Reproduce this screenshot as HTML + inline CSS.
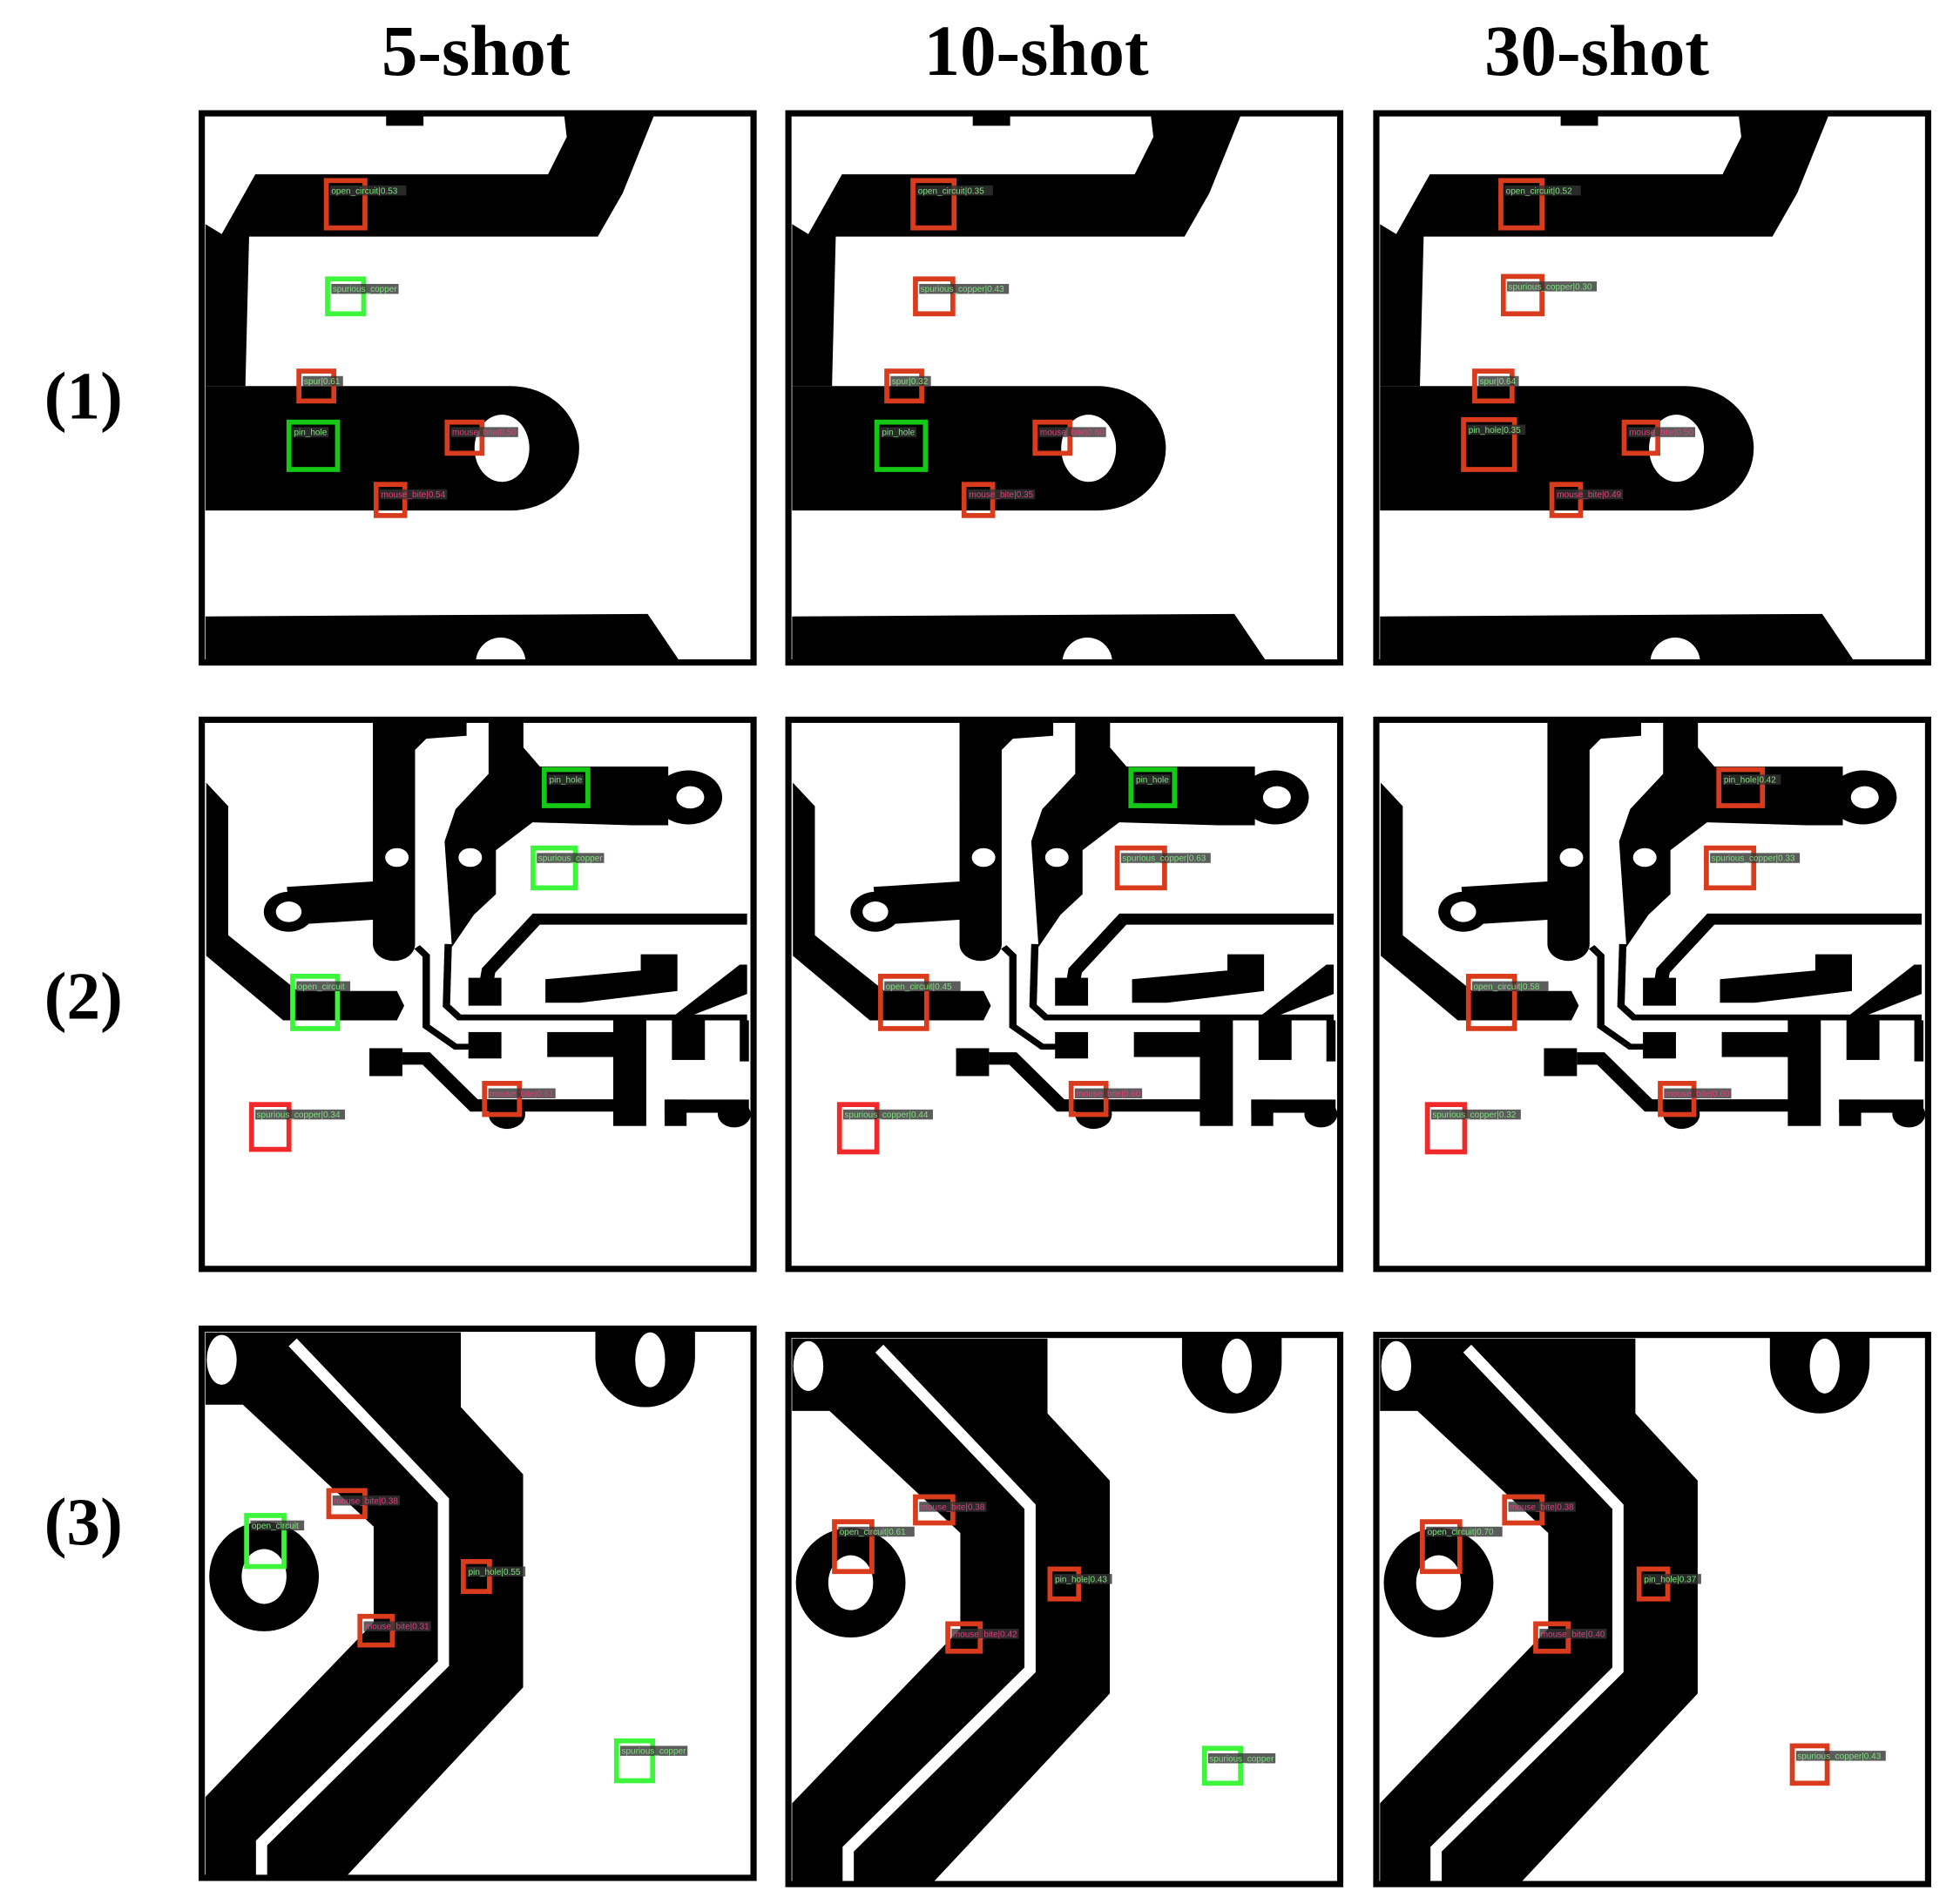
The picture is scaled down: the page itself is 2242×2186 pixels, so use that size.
<!DOCTYPE html>
<html><head><meta charset="utf-8"><style>
html,body{margin:0;padding:0;background:#fff;}
svg{display:block;}
</style></head><body>
<svg id="fig" width="2242" height="2186" viewBox="0 0 1568 1529" preserveAspectRatio="none" xmlns="http://www.w3.org/2000/svg">
<defs>
 <g id="pcb1">
  <polygon points="453,93 525,93 500,155 480,190 200,190 197,310 165,310 165,180 178,188 205,140 440,140 455,110" fill="#000"/>
  <rect x="310" y="93" width="30" height="8" fill="#000"/>
  <path d="M165,310 L410,310 A55,50 0 0 1 410,410 L165,410 Z" fill="#000"/>
  <ellipse cx="403" cy="360" rx="22" ry="27" fill="#fff"/>
  <polygon points="165,495 520,493 545,530 165,530" fill="#000"/>
  <circle cx="402" cy="532" r="20" fill="#fff"/>
 </g>
 <g id="pcb2">
  <g transform="matrix(0.2944,0,0,0.2356,153.8,572)">
   <polygon points="40,240 100,320 100,760 290,950 560,950 580,1000 560,1050 250,1050 40,830" fill="#000"/>
   <path d="M552,40 L552,790" stroke="#000" stroke-width="115" stroke-linecap="round"/>
   <path d="M265,660 L520,640" stroke="#000" stroke-width="130"/>
   <circle cx="265" cy="680" r="68" fill="#000"/>
   <polygon points="495,30 750,30 750,80 640,90 600,140 600,300 495,300" fill="#000"/>
   <circle cx="560" cy="495" r="32" fill="#fff"/>
   <circle cx="265" cy="680" r="35" fill="#fff"/>
   <polygon points="810,30 905,30 905,120 950,185 1300,185 1300,385 1200,385 930,375 830,470 830,620 770,690 710,800 690,440 720,330 810,210" fill="#000"/>
   <circle cx="1355" cy="290" r="92" fill="#000"/>
   <circle cx="1360" cy="290" r="38" fill="#fff"/>
   <circle cx="760" cy="495" r="32" fill="#fff"/>
   <path d="M700,790 L695,1000 L730,1040 L1515,1040" stroke="#000" stroke-width="20" fill="none"/>
   <path d="M615,800 L640,830 L640,1070 L720,1140 L770,1140" stroke="#000" stroke-width="20" fill="none"/>
   <path d="M800,950 L810,880 L940,705 L1515,705" stroke="#000" stroke-width="38" fill="none"/>
   <rect x="755" y="905" width="90" height="95" fill="#000"/>
   <polygon points="965,910 1225,880 1225,825 1325,825 1325,950 1060,990 965,990" fill="#000"/>
   <polygon points="1495,860 1515,860 1515,960 1330,1050 1310,1040" fill="#000"/>
   <rect x="755" y="1090" width="90" height="90" fill="#000"/>
   <rect x="970" y="1090" width="190" height="85" fill="#000"/>
   <rect x="1150" y="1050" width="90" height="360" fill="#000"/>
   <rect x="1310" y="1050" width="90" height="135" fill="#000"/>
   <rect x="1495" y="1050" width="25" height="140" fill="#000"/>
   <rect x="485" y="1145" width="90" height="95" fill="#000"/>
   <path d="M575,1180 L640,1180 L770,1340 L1160,1340" stroke="#000" stroke-width="42" fill="none"/>
   <circle cx="860" cy="1370" r="50" fill="#000"/>
   <rect x="1290" y="1320" width="60" height="90" fill="#000"/>
   <rect x="1290" y="1320" width="230" height="45" fill="#000"/>
   <circle cx="1480" cy="1370" r="45" fill="#000"/>
  </g>
 </g>
 <g id="pcb3">
  <polygon points="165,1070 370,1070 370,1130 420,1184 420,1355 275,1510 165,1510 165,1443 300,1303 300,1226 195,1128 165,1128" fill="#000"/>
  <circle cx="212" cy="1266" r="44" fill="#000"/>
  <ellipse cx="212" cy="1266" rx="18" ry="22" fill="#fff"/>
  <ellipse cx="178" cy="1092" rx="12" ry="20" fill="#fff"/>
  <path d="M235,1078 L356,1205 L356,1336 L210,1480 L210,1510" stroke="#fff" stroke-width="9" fill="none"/>
  <path d="M478,1065 L478,1090 A40,40 0 0 0 558,1090 L558,1065 Z" fill="#000"/>
  <ellipse cx="522" cy="1092" rx="12" ry="22" fill="#fff"/>
 </g>
</defs>
<g id="titles" font-family="'Liberation Serif', serif" font-weight="bold" font-size="58" text-anchor="middle" fill="#000">
 <text x="382" y="60">5-shot</text>
 <text x="832" y="60">10-shot</text>
 <text x="1282" y="60">30-shot</text>
</g>
<g id="rowlabels" font-family="'Liberation Serif', serif" font-weight="bold" font-size="54" text-anchor="middle" fill="#000">
 <text x="67" y="336">(1)</text>
 <text x="67" y="818">(2)</text>
 <text x="67" y="1240">(3)</text>
</g>
<g id="panels"></g>
</svg>
<script>
const NS = "http://www.w3.org/2000/svg";
// panel geometry in display units
const colOffsets = [0, 471, 943];
const rowTops = [91, 578, 1067];
const rowDy = [[0,0,0],[0,0,0],[0,5,5]];
// boxes: [row, col, x1, y1, x2, y2, color, label]
const boxes = [
 [0,0,262,145,293,183,'r','open_circuit|0.53'],[0,0,263,224,292,252,'g','spurious_copper'],[0,0,240,298,268,322,'r','spur|0.61'],[0,0,232,339,271,377,'G','pin_hole'],[0,0,359,339,387,364,'r','mouse_bite|0.50'],[0,0,302,389,325,414,'r','mouse_bite|0.54'],
 [0,1,733,145,766,183,'r','open_circuit|0.35'],[0,1,735,224,765,252,'r','spurious_copper|0.43'],[0,1,712,298,740,322,'r','spur|0.32'],[0,1,704,339,743,377,'G','pin_hole'],[0,1,831,339,859,364,'r','mouse_bite|0.60'],[0,1,774,389,797,414,'r','mouse_bite|0.35'],
 [0,2,1205,145,1238,183,'r','open_circuit|0.52'],[0,2,1207,222,1238,252,'r','spurious_copper|0.30'],[0,2,1184,298,1214,322,'r','spur|0.64'],[0,2,1175,337,1216,377,'r','pin_hole|0.35'],[0,2,1304,339,1331,364,'r','mouse_bite|0.50'],[0,2,1246,389,1269,414,'r','mouse_bite|0.49'],
 [1,0,437,618,472,647,'G','pin_hole'],[1,0,428,681,462,713,'g','spurious_copper'],[1,0,235,784,271,826,'g','open_circuit'],[1,0,389,870,417,895,'r','mouse_bite|0.61'],[1,0,202,887,232,923,'R','spurious_copper|0.34'],
 [1,1,908,618,943,647,'G','pin_hole'],[1,1,897,681,935,713,'r','spurious_copper|0.63'],[1,1,707,784,744,826,'r','open_circuit|0.45'],[1,1,860,870,888,895,'r','mouse_bite|0.60'],[1,1,674,887,704,925,'R','spurious_copper|0.44'],
 [1,2,1380,618,1415,647,'r','pin_hole|0.42'],[1,2,1370,681,1408,713,'r','spurious_copper|0.33'],[1,2,1179,784,1216,826,'r','open_circuit|0.58'],[1,2,1333,870,1360,895,'r','mouse_bite|0.60'],[1,2,1146,887,1176,925,'R','spurious_copper|0.32'],
 [2,0,264,1197,293,1218,'r','mouse_bite|0.38'],[2,0,198,1217,228,1258,'g','open_circuit'],[2,0,372,1254,393,1278,'r','pin_hole|0.55'],[2,0,289,1298,315,1321,'r','mouse_bite|0.31'],[2,0,495,1398,524,1430,'g','spurious_copper'],
 [2,1,735,1202,765,1223,'r','mouse_bite|0.38'],[2,1,670,1222,700,1262,'r','open_circuit|0.61'],[2,1,843,1260,866,1284,'r','pin_hole|0.43'],[2,1,761,1304,787,1326,'r','mouse_bite|0.42'],[2,1,967,1404,996,1432,'g','spurious_copper'],
 [2,2,1208,1202,1238,1223,'r','mouse_bite|0.38'],[2,2,1142,1222,1172,1262,'r','open_circuit|0.70'],[2,2,1316,1260,1339,1284,'r','pin_hole|0.37'],[2,2,1233,1304,1259,1326,'r','mouse_bite|0.40'],[2,2,1439,1402,1467,1432,'r','spurious_copper|0.43']
];
const colors = {r:'#d93c1c', g:'#3df53a', G:'#16c816', R:'#f02a2a'};
const panels = document.getElementById('panels');
for (let r = 0; r < 3; r++) {
  for (let c = 0; c < 3; c++) {
    const dx = colOffsets[c], dy = rowDy[r][c];
    const x = 162 + dx, y = rowTops[r] + dy;
    const g = document.createElementNS(NS, 'g');
    
    
    const cp = document.createElementNS(NS, 'clipPath');
    cp.setAttribute('id', 'cp' + r + c);
    const cr = document.createElementNS(NS, 'rect');
    cr.setAttribute('x', x); cr.setAttribute('y', y); cr.setAttribute('width', 443); cr.setAttribute('height', 441);
    cp.appendChild(cr); g.appendChild(cp);
    const bg = document.createElementNS(NS, 'rect');
    bg.setAttribute('x', x); bg.setAttribute('y', y); bg.setAttribute('width', 443); bg.setAttribute('height', 441); bg.setAttribute('fill', '#fff');
    g.appendChild(bg);
    const cg = document.createElementNS(NS, 'g');
    cg.setAttribute('clip-path', 'url(#cp' + r + c + ')');
    const u = document.createElementNS(NS, 'use');
    u.setAttribute('href', '#pcb' + (r+1));
    u.setAttribute('x', dx); u.setAttribute('y', dy);
    cg.appendChild(u);
    g.appendChild(cg);
    const br = document.createElementNS(NS, 'rect');
    
    
    br.setAttribute('x', x); br.setAttribute('y', y); br.setAttribute('width', 443); br.setAttribute('height', 441);
    br.setAttribute('fill', 'none'); br.setAttribute('stroke', '#000'); br.setAttribute('stroke-width', 5);
    g.appendChild(br);
    panels.appendChild(g);
  }
}
boxes.forEach(b => {
  const [r, c, x1, y1, x2, y2, col, label] = b;
  const g = document.createElementNS(NS, 'g');
  
  
  const rc = document.createElementNS(NS, 'rect');
  rc.setAttribute('x', x1); rc.setAttribute('y', y1); rc.setAttribute('width', x2 - x1); rc.setAttribute('height', y2 - y1);
  rc.setAttribute('fill', 'none'); rc.setAttribute('stroke', colors[col]); rc.setAttribute('stroke-width', 4);
  g.appendChild(rc);
  const lb = document.createElementNS(NS, 'rect');
  
  
  lb.setAttribute('x', x1 + 3); lb.setAttribute('y', y1 + 4); lb.setAttribute('width', label.length * 3.6); lb.setAttribute('height', 8);
  lb.setAttribute('fill', '#333'); lb.setAttribute('opacity', '0.8');
  g.appendChild(lb);
  const t = document.createElementNS(NS, 'text');
  
  
  t.setAttribute('x', x1 + 4); t.setAttribute('y', y1 + 10.5);
  t.setAttribute('font-size', '7'); t.setAttribute('font-family', "'Liberation Sans', sans-serif");
  t.setAttribute('fill', label.indexOf('mouse') === 0 ? '#e0407a' : '#7fe07f');
  t.textContent = label;
  g.appendChild(t);
  panels.appendChild(g);
});
</script>
</body></html>
